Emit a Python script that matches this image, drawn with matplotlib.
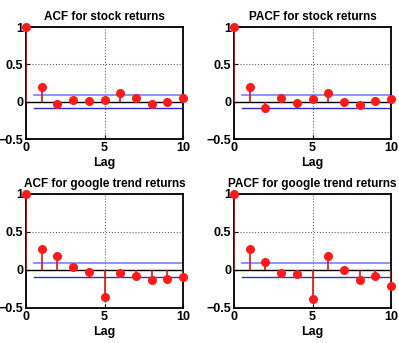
import numpy as np
import matplotlib
matplotlib.use('Agg')
import matplotlib.pyplot as plt

plt.rcParams['font.family'] = ['Liberation Sans', 'DejaVu Sans']
plt.rcParams['font.weight'] = 'bold'

lags = np.arange(0, 11)
acf_stock = [1.0, 0.19, -0.03, 0.02, 0.005, 0.025, 0.11, 0.045, -0.035, 0.0, 0.045]
pacf_stock = [1.0, 0.19, -0.085, 0.045, -0.02, 0.03, 0.11, -0.01, -0.045, 0.01, 0.035]
acf_google = [1.0, 0.27, 0.18, 0.045, -0.027, -0.36, -0.045, -0.085, -0.125, -0.115, -0.09]
pacf_google = [1.0, 0.27, 0.105, -0.035, -0.057, -0.375, 0.19, 0.0, -0.125, -0.08, -0.21]
bound = 0.09

titles = ["ACF for stock returns", "PACF for stock returns",
          "ACF for google trend returns", "PACF for google trend returns"]
series = [acf_stock, pacf_stock, acf_google, pacf_google]

fig = plt.figure(figsize=(3.99, 3.43), dpi=100)
# axes boxes in pixels: left, right, top, bottom
boxes = [(26, 183, 27, 139), (234, 391, 27, 139),
         (26, 183, 194, 308), (234, 391, 194, 308)]
W, H = 399, 343

for (l, r, t, b), title, vals in zip(boxes, titles, series):
    ax = fig.add_axes([l / W, 1 - b / H, (r - l) / W, (b - t) / H])
    ax.set_xlim(0, 10)
    ax.set_ylim(-0.5, 1)
    ax.set_xticks([0, 5, 10])
    ax.set_yticks([-0.5, 0, 0.5, 1])
    ax.set_yticklabels(['\u22120.5', '0', '0.5', '1'])
    ax.grid(True, linestyle=':', color='#666666', linewidth=0.8)
    ax.set_axisbelow(True)
    ax.axhline(0, color='black', lw=1, zorder=2)
    ax.plot([0.5, 10], [bound, bound], color='#8888ff', lw=1.3, zorder=2)
    ax.plot([0.5, 10], [-bound, -bound], color='#2a2ad6', lw=1.0, zorder=2)
    ax.vlines(lags, 0, vals, color='#e01010', lw=1.2, zorder=3)
    ax.plot(lags, vals, 'o', color='#ff1a1a', markersize=5.5, zorder=4, clip_on=False)
    ax.set_title(title, fontsize=8.5, fontweight='bold', pad=5)
    ax.set_xlabel('Lag', fontsize=9, fontweight='bold', labelpad=2)
    ax.tick_params(direction='in', labelsize=9, length=3, pad=2)
    for s in ax.spines.values():
        s.set_linewidth(1.3)

fig.savefig('out.png', dpi=100)
